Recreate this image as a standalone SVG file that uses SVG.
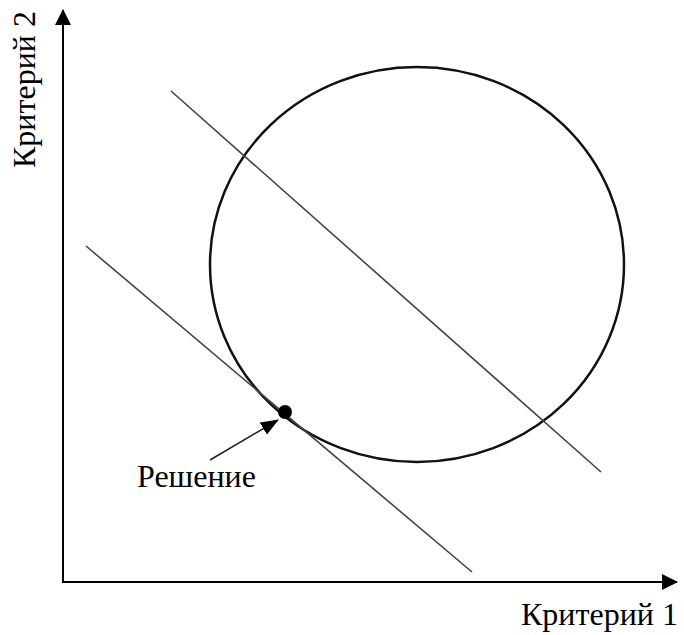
<svg xmlns="http://www.w3.org/2000/svg" width="684" height="635" viewBox="0 0 684 635">
<style>
.lbl{font-family:"Liberation Serif","Times New Roman",serif;font-size:32px;fill:#000}
.ax{stroke:#000;stroke-width:2;fill:none}
.ln{stroke:#444;stroke-width:1.6;fill:none}
</style>
<defs>
<marker id="ah" markerWidth="16" markerHeight="16" viewBox="0 0 16 16" refX="15" refY="8" orient="auto" markerUnits="userSpaceOnUse">
<path d="M0,0 L16,8 L0,16 Z" fill="#000"/>
</marker>
<marker id="ah2" markerWidth="18" markerHeight="14" viewBox="0 0 18 14" refX="17" refY="7" orient="auto" markerUnits="userSpaceOnUse">
<path d="M0,0 L18,7 L0,14 Z" fill="#000"/>
</marker>
</defs>
<g id="axes">
<line class="ax" x1="63" y1="583" x2="63" y2="10" marker-end="url(#ah)"/>
<line class="ax" x1="62" y1="582" x2="677" y2="582" marker-end="url(#ah)"/>
</g>
<g id="region">
<ellipse cx="417" cy="264.5" rx="207" ry="197.5" fill="none" stroke="#111" stroke-width="2.5"/>
</g>
<g id="connectors">
<line class="ln" x1="171" y1="91" x2="601" y2="472"/>
<line class="ln" x1="86" y1="246" x2="472" y2="572"/>
<line x1="210" y1="460" x2="278" y2="420" stroke="#222" stroke-width="1.6" marker-end="url(#ah2)"/>
</g>
<g id="solution">
<circle cx="285" cy="412" r="7" fill="#000"/>
<text class="lbl" x="137" y="487">Решение</text>
</g>
<g id="labels">
<text class="lbl" x="521" y="625">Критерий 1</text>
<text class="lbl" transform="translate(35,168) rotate(-90)">Критерий 2</text>
</g>
</svg>
